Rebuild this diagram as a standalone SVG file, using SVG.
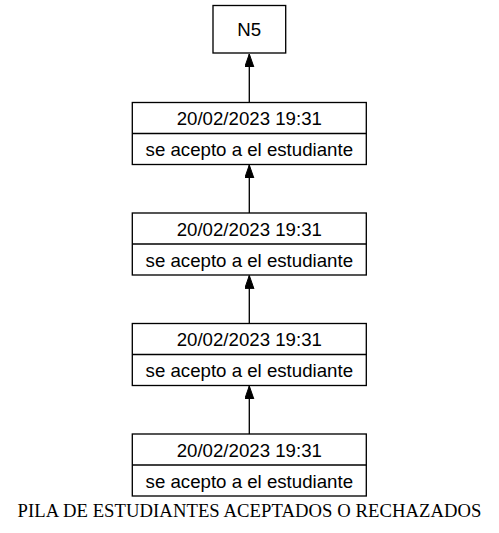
<svg xmlns="http://www.w3.org/2000/svg" width="499" height="533" viewBox="0 0 499 533">
<style>
.box{fill:#fff;stroke:#000;stroke-width:1.33}
.t{font-family:"Liberation Sans",Arial,sans-serif;font-size:18.67px;text-anchor:middle;fill:#000}
.edge{stroke:#000;stroke-width:1.33;fill:none}
.cap{font-family:"Liberation Serif","Times New Roman",serif;font-size:18.67px;text-anchor:middle;fill:#000}
</style>
<defs>
<marker id="ah" markerUnits="userSpaceOnUse" markerWidth="14" markerHeight="10" refX="13.3" refY="4.67" orient="auto">
<path d="M0,0 L13.3,4.67 L0,9.33 Z" fill="#000" stroke="#000" stroke-width="1"/>
</marker>
</defs>
<rect width="499" height="533" fill="#fff"/>
<g id="connectors">
<line class="edge" x1="249.3" y1="102.5" x2="249.3" y2="54" marker-end="url(#ah)"/>
<line class="edge" x1="249.3" y1="213" x2="249.3" y2="165" marker-end="url(#ah)"/>
<line class="edge" x1="249.3" y1="323.5" x2="249.3" y2="275.5" marker-end="url(#ah)"/>
<line class="edge" x1="249.3" y1="434" x2="249.3" y2="386" marker-end="url(#ah)"/>
</g>
<g id="N5">
<rect class="box" x="213" y="5.5" width="72.7" height="47.5"/>
<text class="t" x="249.3" y="36">N5</text>
</g>
<g id="rec1">
<rect class="box" x="132.3" y="102.5" width="234" height="62"/>
<line class="box" x1="132.3" y1="133.5" x2="366.3" y2="133.5"/>
<text class="t" x="249.3" y="125">20/02/2023 19:31</text>
<text class="t" x="249.3" y="156">se acepto a el estudiante</text>
</g>
<g id="rec2">
<rect class="box" x="132.3" y="213" width="234" height="62"/>
<line class="box" x1="132.3" y1="244" x2="366.3" y2="244"/>
<text class="t" x="249.3" y="235.5">20/02/2023 19:31</text>
<text class="t" x="249.3" y="266.5">se acepto a el estudiante</text>
</g>
<g id="rec3">
<rect class="box" x="132.3" y="323.5" width="234" height="62"/>
<line class="box" x1="132.3" y1="354.5" x2="366.3" y2="354.5"/>
<text class="t" x="249.3" y="346">20/02/2023 19:31</text>
<text class="t" x="249.3" y="377">se acepto a el estudiante</text>
</g>
<g id="rec4">
<rect class="box" x="132.3" y="434" width="234" height="62"/>
<line class="box" x1="132.3" y1="465" x2="366.3" y2="465"/>
<text class="t" x="249.3" y="456.5">20/02/2023 19:31</text>
<text class="t" x="249.3" y="487.5">se acepto a el estudiante</text>
</g>
<text class="cap" x="249.5" y="517" textLength="464" lengthAdjust="spacing">PILA DE ESTUDIANTES ACEPTADOS O RECHAZADOS</text>
</svg>
